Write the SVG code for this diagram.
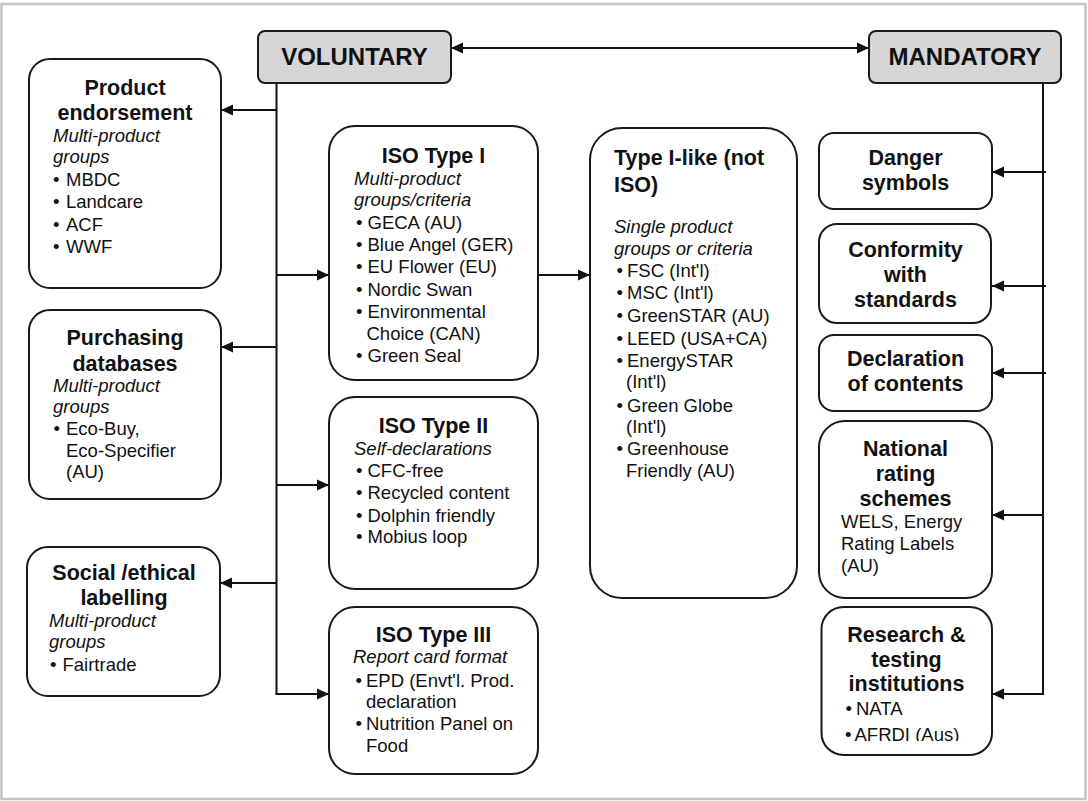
<svg xmlns="http://www.w3.org/2000/svg" width="1088" height="801" viewBox="0 0 1088 801">
<defs>
<marker id="ah" markerUnits="userSpaceOnUse" markerWidth="13" markerHeight="12" refX="12" refY="6" orient="auto-start-reverse">
<path d="M0,0.5 L12,6 L0,11.5 z" fill="#111"/>
</marker>
<pattern id="dots" width="4" height="4" patternUnits="userSpaceOnUse">
<rect width="4" height="4" fill="#d5d5d5"/>
<rect x="1" y="1" width="1" height="1" fill="#e6e6e6"/>
</pattern>
<clipPath id="cutAfrdi">
<rect x="830" y="720" width="150" height="21"/>
</clipPath>
</defs>
<style>
.box{fill:#fff;stroke:#1a1a1a;stroke-width:2}
.hdr{fill:url(#dots);stroke:#1a1a1a;stroke-width:2}
.ttl{font-family:"Liberation Sans",Arial,sans-serif;font-weight:bold;font-size:21.5px;fill:#111;text-anchor:middle}
.big{font-family:"Liberation Sans",Arial,sans-serif;font-weight:bold;font-size:24px;fill:#111;text-anchor:middle}
.lft{font-family:"Liberation Sans",Arial,sans-serif;font-weight:bold;font-size:21.5px;fill:#111}
.it{font-family:"Liberation Sans",Arial,sans-serif;font-style:italic;font-size:18.5px;fill:#111}
.tx{font-family:"Liberation Sans",Arial,sans-serif;font-size:18.5px;fill:#111}
.ln{fill:none;stroke:#111;stroke-width:2}
.ar{fill:none;stroke:#111;stroke-width:2;marker-end:url(#ah)}
</style>
<rect x="1.5" y="4" width="1084" height="795" fill="#fff" stroke="#c4c4c4" stroke-width="2.5"/>

<g id="connectors">
<line class="ar" x1="451" y1="48" x2="869" y2="48" style="marker-start:url(#ah)"/>
<polyline class="ln" points="276.5,83 276.5,694"/>
<line class="ar" x1="276.5" y1="110" x2="221" y2="110"/>
<line class="ar" x1="276.5" y1="347" x2="221" y2="347"/>
<line class="ar" x1="276.5" y1="583" x2="220" y2="583"/>
<line class="ar" x1="276.5" y1="275" x2="329" y2="275"/>
<line class="ar" x1="276.5" y1="485" x2="329" y2="485"/>
<line class="ar" x1="275.5" y1="694" x2="329" y2="694"/>
<line class="ar" x1="538" y1="275" x2="590" y2="275"/>
<polyline class="ln" points="1043,83 1043,694"/>
<line class="ar" x1="1046" y1="172" x2="992" y2="172"/>
<line class="ar" x1="1046" y1="286" x2="992" y2="286"/>
<line class="ar" x1="1046" y1="373" x2="992" y2="373"/>
<line class="ar" x1="1044" y1="515" x2="992" y2="515"/>
<line class="ar" x1="1044" y1="694" x2="992" y2="694"/>
</g>

<g id="voluntary">
<rect class="hdr" x="258" y="31" width="193" height="52" rx="7"/>
<text class="big" x="354.5" y="65">VOLUNTARY</text>
</g>

<g id="mandatory">
<rect class="hdr" x="869" y="31" width="192" height="52" rx="7"/>
<text class="big" x="965" y="65">MANDATORY</text>
</g>

<g id="product-endorsement">
<rect class="box" x="29" y="59" width="192" height="229" rx="21"/>
<text class="ttl" x="125" y="95">Product</text>
<text class="ttl" x="125" y="120">endorsement</text>
<text class="it" x="53" y="142">Multi-product</text>
<text class="it" x="53" y="163">groups</text>
<text class="tx" x="53" y="186">•</text><text class="tx" x="66" y="186">MBDC</text>
<text class="tx" x="53" y="208">•</text><text class="tx" x="66" y="208">Landcare</text>
<text class="tx" x="53" y="231">•</text><text class="tx" x="66" y="231">ACF</text>
<text class="tx" x="53" y="253">•</text><text class="tx" x="66" y="253">WWF</text>
</g>

<g id="purchasing-databases">
<rect class="box" x="29" y="310" width="192" height="189" rx="21"/>
<text class="ttl" x="125" y="345">Purchasing</text>
<text class="ttl" x="125" y="371">databases</text>
<text class="it" x="53" y="392">Multi-product</text>
<text class="it" x="53" y="413">groups</text>
<text class="tx" x="53.5" y="435">•</text><text class="tx" x="66" y="435">Eco-Buy,</text>
<text class="tx" x="66" y="457">Eco-Specifier</text>
<text class="tx" x="66" y="478">(AU)</text>
</g>

<g id="social-ethical">
<rect class="box" x="27" y="547" width="193" height="149" rx="21"/>
<text class="ttl" x="124" y="580">Social /ethical</text>
<text class="ttl" x="124" y="605">labelling</text>
<text class="it" x="49" y="627">Multi-product</text>
<text class="it" x="49" y="648">groups</text>
<text class="tx" x="50" y="671">•</text><text class="tx" x="62.5" y="671">Fairtrade</text>
</g>

<g id="iso-type-1">
<rect class="box" x="329" y="126" width="209" height="254" rx="26"/>
<text class="ttl" x="433.5" y="163">ISO Type I</text>
<text class="it" x="354" y="185">Multi-product</text>
<text class="it" x="354" y="206">groups/criteria</text>
<text class="tx" x="356" y="229">•</text><text class="tx" x="367.5" y="229">GECA (AU)</text>
<text class="tx" x="356" y="251">•</text><text class="tx" x="367.5" y="251">Blue Angel (GER)</text>
<text class="tx" x="356" y="273">•</text><text class="tx" x="367.5" y="273">EU Flower (EU)</text>
<text class="tx" x="356" y="296">•</text><text class="tx" x="367.5" y="296">Nordic Swan</text>
<text class="tx" x="356" y="318">•</text><text class="tx" x="367.5" y="318">Environmental</text>
<text class="tx" x="366.5" y="340">Choice (CAN)</text>
<text class="tx" x="356" y="362">•</text><text class="tx" x="367.5" y="362">Green Seal</text>
</g>

<g id="iso-type-2">
<rect class="box" x="329" y="397" width="209" height="192" rx="26"/>
<text class="ttl" x="433.5" y="433">ISO Type II</text>
<text class="it" x="354" y="455">Self-declarations</text>
<text class="tx" x="356" y="477">•</text><text class="tx" x="367.5" y="477">CFC-free</text>
<text class="tx" x="356" y="499">•</text><text class="tx" x="367.5" y="499">Recycled content</text>
<text class="tx" x="356" y="522">•</text><text class="tx" x="367.5" y="522">Dolphin friendly</text>
<text class="tx" x="356" y="543">•</text><text class="tx" x="367.5" y="543">Mobius loop</text>
</g>

<g id="iso-type-3">
<rect class="box" x="329" y="607" width="209" height="167" rx="26"/>
<text class="ttl" x="433.5" y="642">ISO Type III</text>
<text class="it" x="353" y="663">Report card format</text>
<text class="tx" x="355.5" y="687">•</text><text class="tx" x="366" y="687">EPD (Envt'l. Prod.</text>
<text class="tx" x="366" y="708">declaration</text>
<text class="tx" x="355.5" y="730">•</text><text class="tx" x="366" y="730">Nutrition Panel on</text>
<text class="tx" x="366" y="752">Food</text>
</g>

<g id="type-1-like">
<rect class="box" x="590" y="128" width="207" height="470" rx="32"/>
<text class="lft" x="614" y="165">Type I-like (not</text>
<text class="lft" x="614" y="192">ISO)</text>
<text class="it" x="614" y="233">Single product</text>
<text class="it" x="614" y="255">groups or criteria</text>
<text class="tx" x="616.5" y="277">•</text><text class="tx" x="627" y="277">FSC (Int'l)</text>
<text class="tx" x="616.5" y="299">•</text><text class="tx" x="627" y="299">MSC (Int'l)</text>
<text class="tx" x="616.5" y="322">•</text><text class="tx" x="627" y="322">GreenSTAR (AU)</text>
<text class="tx" x="616.5" y="345">•</text><text class="tx" x="627" y="345">LEED (USA+CA)</text>
<text class="tx" x="616.5" y="367">•</text><text class="tx" x="627" y="367">EnergySTAR</text>
<text class="tx" x="626" y="388">(Int'l)</text>
<text class="tx" x="616.5" y="412">•</text><text class="tx" x="627" y="412">Green Globe</text>
<text class="tx" x="626" y="433">(Int'l)</text>
<text class="tx" x="616.5" y="455">•</text><text class="tx" x="627" y="455">Greenhouse</text>
<text class="tx" x="626" y="477">Friendly (AU)</text>
</g>

<g id="danger-symbols">
<rect class="box" x="819" y="133" width="173" height="76" rx="15"/>
<text class="ttl" x="905.5" y="165">Danger</text>
<text class="ttl" x="905.5" y="190">symbols</text>
</g>

<g id="conformity">
<rect class="box" x="819" y="224" width="172" height="99" rx="18"/>
<text class="ttl" x="905.5" y="257">Conformity</text>
<text class="ttl" x="905.5" y="282">with</text>
<text class="ttl" x="905.5" y="307">standards</text>
</g>

<g id="declaration">
<rect class="box" x="819" y="335" width="173" height="76" rx="15"/>
<text class="ttl" x="905.5" y="366">Declaration</text>
<text class="ttl" x="905.5" y="391">of contents</text>
</g>

<g id="national-rating">
<rect class="box" x="819" y="421" width="173" height="177" rx="26"/>
<text class="ttl" x="905.5" y="456">National</text>
<text class="ttl" x="905.5" y="481">rating</text>
<text class="ttl" x="905.5" y="506">schemes</text>
<text class="tx" x="841" y="528">WELS, Energy</text>
<text class="tx" x="841" y="550">Rating Labels</text>
<text class="tx" x="841" y="572">(AU)</text>
</g>

<g id="research-testing">
<rect class="box" x="821.5" y="607" width="170.5" height="148" rx="22"/>
<text class="ttl" x="906.5" y="642">Research &amp;</text>
<text class="ttl" x="906.5" y="667">testing</text>
<text class="ttl" x="906.5" y="691">institutions</text>
<text class="tx" x="845.5" y="715">•</text><text class="tx" x="856" y="715">NATA</text>
<g clip-path="url(#cutAfrdi)">
<text class="tx" x="845" y="741">•</text><text class="tx" x="854.5" y="741">AFRDI (Aus)</text>
</g>
</g>
</svg>
